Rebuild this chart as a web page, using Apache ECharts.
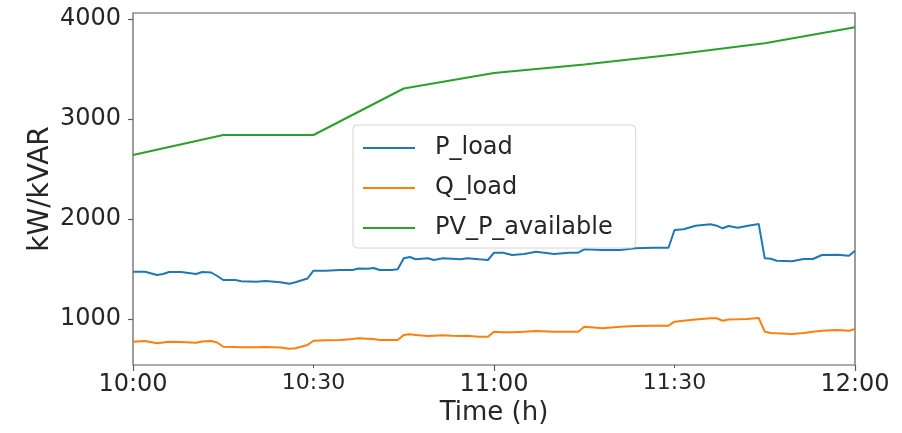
<!DOCTYPE html>
<html>
<head>
<meta charset="utf-8">
<script src="https://cdn.jsdelivr.net/npm/echarts@6/dist/echarts.min.js"></script>
<style>
  html, body { margin: 0; padding: 0; background: #fff; }
  #chart { width: 902px; height: 433px; }
</style>
</head>
<body>
<div id="chart"></div>
<script>
// Minutes after 10:00 for the load samples
const loadMinutes = [0, 2, 4, 5, 6, 8, 10.5, 11.5, 13, 14, 15, 17, 18, 20.5, 22, 24.5, 26, 27, 29,
  30, 32, 34.5, 36.5, 37.5, 39, 40, 41, 43, 44, 45, 46, 47, 49, 50, 51.5, 53, 54.5, 55.5, 57.5, 59,
  60, 61.5, 63, 65, 67, 70, 72.5, 74, 75, 78, 81, 83.5, 86.5, 89, 90, 91.5, 93.5, 96, 97, 98, 99,
  100.5, 102, 104, 105, 106, 107, 109.5, 111.5, 113, 114.5, 117, 119, 120];

// Active load (kW)
const pLoad = [1473, 1473, 1440, 1450, 1470, 1470, 1450, 1470, 1465, 1430, 1390, 1390, 1377, 1373, 1380, 1367, 1353, 1367, 1405,
  1483, 1483, 1490, 1490, 1505, 1503, 1510, 1490, 1490, 1497, 1607, 1620, 1597, 1607, 1590, 1607, 1603, 1597, 1607, 1597, 1590,
  1663, 1663, 1640, 1650, 1673, 1650, 1663, 1663, 1697, 1690, 1690, 1707, 1713, 1713, 1890, 1897, 1933, 1947, 1933, 1907, 1930,
  1913, 1930, 1950, 1607, 1603, 1583, 1577, 1600, 1600, 1640, 1643, 1633, 1683];

// Reactive load (kVAR)
const qLoad = [773, 780, 757, 765, 773, 770, 763, 775, 780, 765, 723, 720, 717, 718, 720, 715, 703, 708, 740,
  783, 787, 790, 800, 807, 803, 800, 790, 790, 790, 840, 847, 840, 830, 833, 837, 833, 830, 833, 823, 823,
  873, 867, 867, 873, 880, 873, 873, 873, 923, 907, 923, 930, 933, 933, 973, 983, 995, 1007, 1007, 983, 995,
  997, 1000, 1010, 873, 860, 857, 850, 860, 873, 883, 890, 883, 900];

// Available PV power (kW), 15-minute points
const pvMinutes = [0, 15, 30, 45, 60, 75, 90, 105, 120];
const pvAvailable = [2640, 2840, 2840, 3305, 3460, 3545, 3645, 3757, 3917];

// Axis ticks
const xTickMinutes = [0, 30, 60, 90, 120];
const xTickLabels = ['10:00', '10:30', '11:00', '11:30', '12:00'];
const xMajorMinutes = [0, 60, 120];
const yTicks = [1000, 2000, 3000, 4000];

const FONT = 'DejaVu Sans';
const TEXT = '#262626';
const SPINE = '#5c5c5c';

const pair = (xs, ys) => xs.map((x, i) => [x, ys[i]]);

const chart = echarts.init(document.getElementById('chart'), null, { renderer: 'canvas' });

chart.setOption({
  animation: false,
  backgroundColor: '#fff',
  textStyle: { fontFamily: FONT, color: TEXT },
  grid: {
    left: 133, right: 47, top: 13, bottom: 68,
    show: true, borderColor: SPINE, borderWidth: 1.2, backgroundColor: 'transparent'
  },
  legend: {
    orient: 'vertical',
    left: 353, top: 125,
    padding: [11, 23, 8, 10],
    itemGap: 16,
    itemWidth: 52, itemHeight: 2,
    icon: 'rect',
    backgroundColor: 'rgba(255,255,255,0.8)',
    borderColor: '#d4d4d4', borderWidth: 1, borderRadius: 4,
    textStyle: { fontFamily: FONT, fontSize: 24, color: TEXT, lineHeight: 24, padding: [0, 0, 0, 15] },
    data: ['P_load', 'Q_load', 'PV_P_available']
  },
  xAxis: [
    {
      type: 'value', min: 0, max: 120,
      name: 'Time (h)', nameLocation: 'middle', nameGap: 35, nameMoveOverlap: false,
      nameTextStyle: { fontFamily: FONT, fontSize: 26, color: TEXT },
      axisLine: { show: false },
      splitLine: { show: false },
      axisTick: { show: true, length: 3, lineStyle: { color: SPINE, width: 1 }, customValues: xTickMinutes },
      axisLabel: {
        customValues: xTickMinutes,
        margin: 8,
        fontFamily: FONT, color: TEXT,
        formatter: function (v) {
          const i = xTickMinutes.indexOf(v);
          if (i < 0) return '';
          const style = xMajorMinutes.indexOf(v) >= 0 ? 'maj' : 'mnr';
          return '{' + style + '|' + xTickLabels[i] + '}';
        },
        rich: {
          maj: { fontFamily: FONT, fontSize: 24, lineHeight: 24, color: TEXT },
          mnr: { fontFamily: FONT, fontSize: 22, lineHeight: 20, color: TEXT }
        }
      }
    },
    {
      type: 'value', min: 0, max: 120, position: 'bottom',
      axisLine: { show: false },
      splitLine: { show: false },
      axisLabel: { show: false },
      axisTick: { show: true, length: 6, lineStyle: { color: SPINE, width: 1.2 }, customValues: xMajorMinutes }
    }
  ],
  yAxis: {
    type: 'value', min: 540, max: 4060,
    name: 'kW/kVAR', nameLocation: 'middle', nameGap: 78, nameRotate: 90, nameMoveOverlap: false,
    nameTextStyle: { fontFamily: FONT, fontSize: 28, color: TEXT },
    axisLine: { show: false },
    splitLine: { show: false },
    axisTick: { show: true, length: 5, lineStyle: { color: SPINE, width: 1.2 }, customValues: yTicks },
    axisLabel: {
      customValues: yTicks, margin: 12, fontFamily: FONT, fontSize: 24, color: TEXT,
      formatter: function (v) { return String(v); }
    }
  },
  series: [
    {
      name: 'P_load', type: 'line', xAxisIndex: 0,
      data: pair(loadMinutes, pLoad),
      showSymbol: false, symbol: 'none',
      color: '#1f77b4',
      lineStyle: { width: 2, color: '#1f77b4' }
    },
    {
      name: 'Q_load', type: 'line', xAxisIndex: 0,
      data: pair(loadMinutes, qLoad),
      showSymbol: false, symbol: 'none',
      color: '#ff7f0e',
      lineStyle: { width: 2, color: '#ff7f0e' }
    },
    {
      name: 'PV_P_available', type: 'line', xAxisIndex: 0,
      data: pair(pvMinutes, pvAvailable),
      showSymbol: false, symbol: 'none',
      color: '#2ca02c',
      lineStyle: { width: 2, color: '#2ca02c' }
    }
  ]
});
</script>
</body>
</html>
